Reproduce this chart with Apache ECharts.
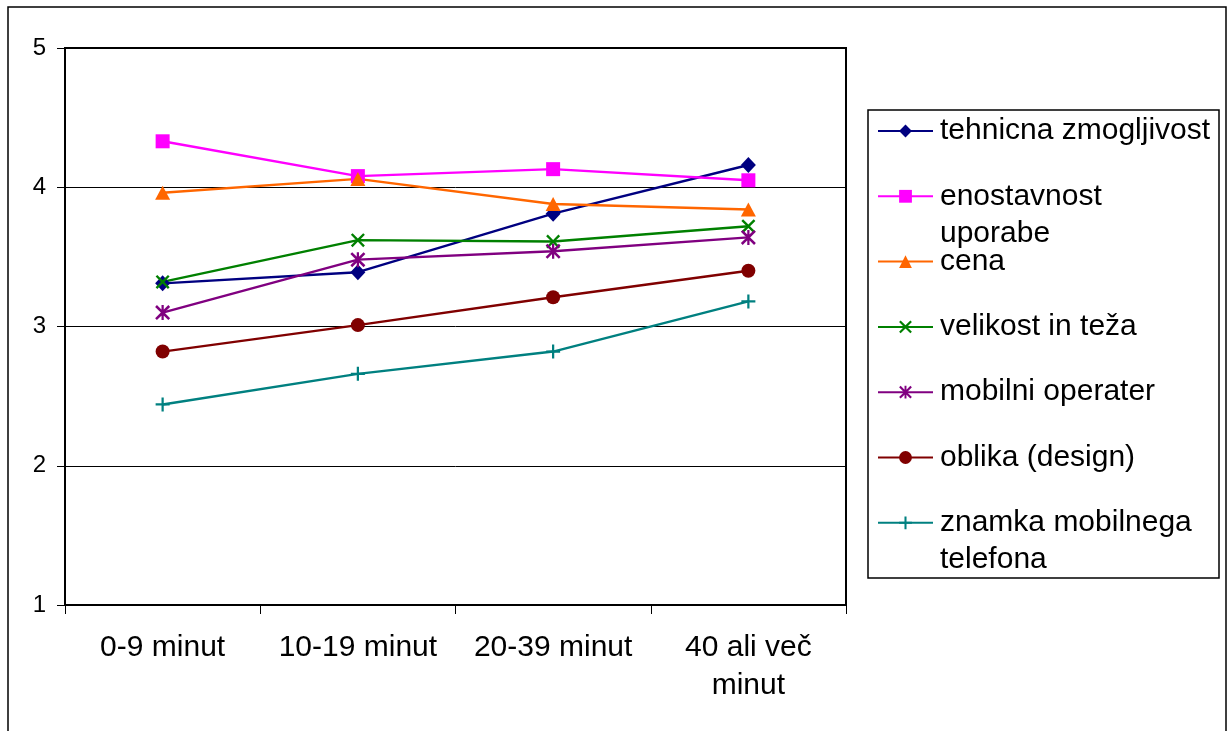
<!DOCTYPE html>
<html>
<head>
<meta charset="utf-8">
<script src="https://cdn.jsdelivr.net/npm/echarts@6/dist/echarts.min.js"></script>
<style>
  html, body { margin: 0; padding: 0; background: #fff; }
  #chart { width: 1227px; height: 731px; }
</style>
</head>
<body>
<div id="chart"></div>
<script>
// ---- data ----
const categories = ['0-9 minut', '10-19 minut', '20-39 minut', '40 ali več\nminut'];
const seriesNames = ['tehnicna zmogljivost', 'enostavnost uporabe', 'cena', 'velikost in teža', 'mobilni operater', 'oblika (design)', 'znamka mobilnega telefona'];
const legendLabels = ['tehnicna zmogljivost', 'enostavnost\nuporabe', 'cena', 'velikost in teža', 'mobilni operater', 'oblika (design)', 'znamka mobilnega\ntelefona'];
const tehnicna = [3.31, 3.39, 3.81, 4.16];
const enostavnost = [4.33, 4.08, 4.13, 4.05];
const cena = [3.96, 4.06, 3.88, 3.84];
const velikost = [3.32, 3.62, 3.61, 3.72];
const operater = [3.10, 3.48, 3.54, 3.64];
const oblika = [2.82, 3.01, 3.21, 3.40];
const znamka = [2.44, 2.66, 2.82, 3.18];
const yTicks = [1, 2, 3, 4, 5];

// ---- styles ----
const colors = ['#000080', '#FF00FF', '#FF6600', '#008000', '#800080', '#800000', '#008080'];
const crossPath = 'path://M0,2.4 L2.4,0 L10,7.6 L17.6,0 L20,2.4 L12.4,10 L20,17.6 L17.6,20 L10,12.4 L2.4,20 L0,17.6 L7.6,10 Z';
const starPath = 'path://M0,2.4 L2.4,0 L10,7.6 L17.6,0 L20,2.4 L12.4,10 L20,17.6 L17.6,20 L10,12.4 L2.4,20 L0,17.6 L7.6,10 Z M8.5,0 L11.5,0 L11.5,20 L8.5,20 Z';
const plusPath = 'path://M8.4,0 H11.6 V8.4 H20 V11.6 H11.6 V20 H8.4 V11.6 H0 V8.4 H8.4 Z';
const symbols = ['diamond', 'rect', 'triangle', crossPath, starPath, 'circle', plusPath];
const symbolSizes = [[15, 16], [14, 14], [15, 14], [14, 14], [15, 15], [14, 14], [14, 14]];
const allData = [tehnicna, enostavnost, cena, velikost, operater, oblika, znamka];
const FONT = '"Liberation Sans", Arial, Helvetica, sans-serif';

const series = seriesNames.map((name, i) => ({
  name: name,
  type: 'line',
  data: allData[i],
  symbol: symbols[i],
  symbolSize: symbolSizes[i],
  showAllSymbol: true,
  lineStyle: { color: colors[i], width: 2.4 },
  itemStyle: { color: colors[i] },
  emphasis: { disabled: true },
  animation: false
}));

const chart = echarts.init(document.getElementById('chart'), null, { renderer: 'canvas' });
chart.setOption({
  backgroundColor: '#ffffff',
  animation: false,
  textStyle: { fontFamily: FONT },
  grid: {
    left: 65,
    top: 48,
    width: 781,
    height: 557,
    show: true,
    borderColor: '#000',
    borderWidth: 2,
    backgroundColor: 'transparent'
  },
  xAxis: {
    type: 'category',
    data: categories,
    boundaryGap: true,
    axisLine: { show: true, lineStyle: { color: '#000', width: 2 } },
    axisTick: { show: true, length: 9, lineStyle: { color: '#000', width: 1 } },
    axisLabel: {
      fontSize: 30,
      lineHeight: 38,
      color: '#000',
      margin: 24,
      fontFamily: FONT,
      interval: 0
    },
    splitLine: { show: false }
  },
  yAxis: {
    type: 'value',
    min: yTicks[0],
    max: yTicks[yTicks.length - 1],
    interval: 1,
    axisLine: { show: true, lineStyle: { color: '#000', width: 2 } },
    axisTick: { show: true, length: 8, lineStyle: { color: '#000', width: 1 } },
    axisLabel: { fontSize: 24, color: '#000', margin: 19, fontFamily: FONT },
    splitLine: { show: true, lineStyle: { color: '#000', width: 1 } }
  },
  legend: {
    orient: 'vertical',
    left: 877,
    top: 75.5,
    padding: 0,
    itemGap: -45.7,
    itemWidth: 55,
    itemHeight: 16,
    selectedMode: false,
    data: seriesNames,
    formatter: function (name) {
      const idx = seriesNames.indexOf(name);
      const label = legendLabels[idx];
      return label.indexOf('\n') >= 0 ? '\n' + label : '\n' + label + '\n';
    },
    textStyle: {
      fontSize: 30,
      lineHeight: 37,
      color: '#000',
      fontFamily: FONT,
      padding: [0, 0, 0, 2]
    }
  },
  graphic: [
    {
      type: 'rect',
      shape: { x: 8, y: 7, width: 1218, height: 760 },
      style: { fill: 'none', stroke: '#000', lineWidth: 1.5 },
      silent: true, z: -1
    },
    {
      type: 'rect',
      shape: { x: 868, y: 110, width: 351, height: 468 },
      style: { fill: 'none', stroke: '#000', lineWidth: 1.5 },
      silent: true, z: -1
    }
  ],
  series: series
});
</script>
</body>
</html>
